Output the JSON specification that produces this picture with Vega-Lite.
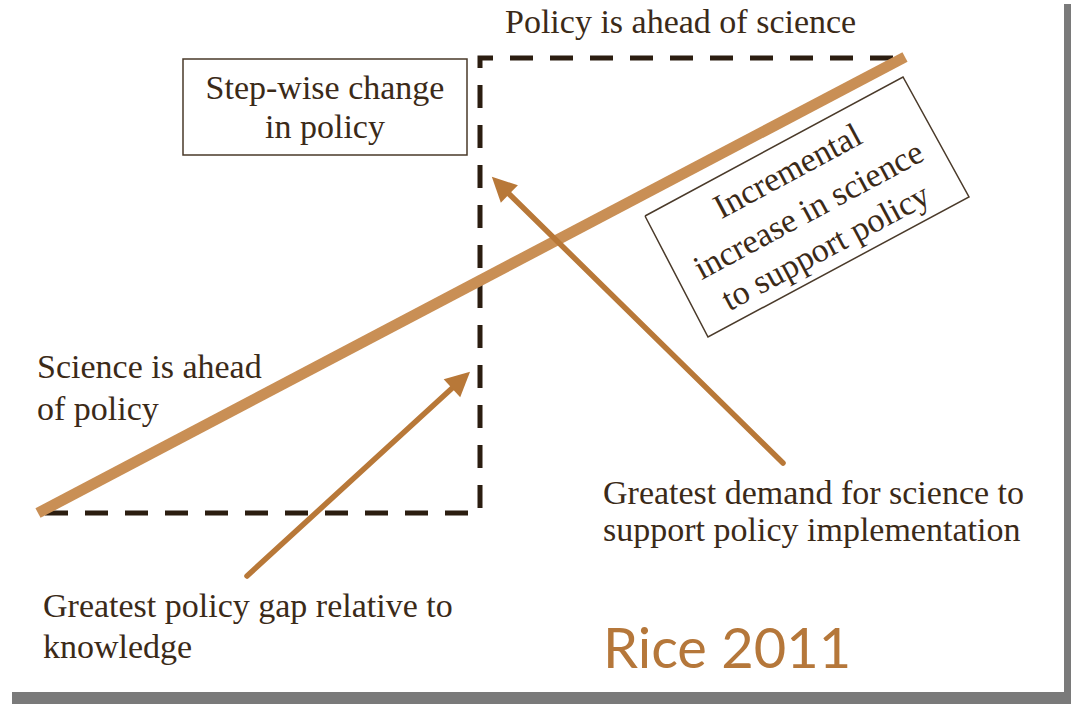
{
  "$schema": "https://vega.github.io/schema/vega-lite/v6.json",
  "width": 1071,
  "height": 704,
  "autosize": {"type": "fit", "contains": "padding"},
  "padding": 0,
  "background": "white",
  "config": {"view": {"stroke": null}},
  "encoding": {
    "x": {"field": "x", "type": "quantitative", "scale": {"domain": [0, 1071], "nice": false, "zero": false}, "axis": null},
    "y": {"field": "y", "type": "quantitative", "scale": {"domain": [0, 704], "nice": false, "zero": false, "reverse": true}, "axis": null}
  },
  "layer": [
    {
      "data": {"values": [
        {"x": 12, "x2": 1071, "y": 692, "y2": 704},
        {"x": 1064, "x2": 1071, "y": 4, "y2": 704}
      ]},
      "mark": {"type": "rect", "color": "#7a7a7a"},
      "encoding": {
        "x2": {"field": "x2"},
        "y2": {"field": "y2"}
      }
    },
    {
      "data": {"values": [
        {"x": 183, "x2": 467, "y": 59, "y2": 155}
      ]},
      "mark": {"type": "rect", "fill": null, "stroke": "#4a3a2a", "strokeWidth": 1.5},
      "encoding": {
        "x2": {"field": "x2"},
        "y2": {"field": "y2"}
      }
    },
    {
      "data": {"values": [
        {"o": 0, "x": 645, "y": 216},
        {"o": 1, "x": 903, "y": 77},
        {"o": 2, "x": 969, "y": 197},
        {"o": 3, "x": 708, "y": 337},
        {"o": 4, "x": 645, "y": 216}
      ]},
      "mark": {"type": "line", "color": "#4a3a2a", "strokeWidth": 1.5},
      "encoding": {"order": {"field": "o"}}
    },
    {
      "data": {"values": [
        {"o": 0, "x": 45, "y": 513},
        {"o": 1, "x": 480, "y": 513},
        {"o": 2, "x": 480, "y": 58},
        {"o": 3, "x": 898, "y": 58}
      ]},
      "mark": {"type": "line", "color": "#2b1d10", "strokeWidth": 5, "strokeDash": [23, 17], "strokeCap": "butt", "strokeJoin": "miter"},
      "encoding": {"order": {"field": "o"}}
    },
    {
      "data": {"values": [
        {"o": 0, "x": 38, "y": 513},
        {"o": 1, "x": 905, "y": 57}
      ]},
      "mark": {"type": "line", "color": "#C98F55", "strokeWidth": 11, "strokeCap": "butt"},
      "encoding": {"order": {"field": "o"}}
    },
    {
      "data": {"values": [
        {"id": "a", "o": 0, "x": 247, "y": 576},
        {"id": "a", "o": 1, "x": 461, "y": 380},
        {"id": "b", "o": 0, "x": 783, "y": 463},
        {"id": "b", "o": 1, "x": 501, "y": 186}
      ]},
      "mark": {"type": "line", "color": "#B87838", "strokeWidth": 5.5, "strokeCap": "round"},
      "encoding": {"order": {"field": "o"}, "detail": {"field": "id"}}
    },
    {
      "data": {"values": [
        {"x": 461, "y": 380, "a": 47.7},
        {"x": 500.6, "y": 185.4, "a": 314.2}
      ]},
      "mark": {"type": "point", "shape": "M0,-1L1,1L-1,1Z", "filled": true, "size": 600, "color": "#B87838", "opacity": 1, "strokeWidth": 0},
      "encoding": {"angle": {"field": "a", "type": "quantitative", "scale": null}}
    },
    {
      "data": {"values": [
        {"x": 505, "y": 33, "t": "Policy is ahead of science"},
        {"x": 37, "y": 378, "t": "Science is ahead"},
        {"x": 37, "y": 420, "t": "of policy"},
        {"x": 603, "y": 504, "t": "Greatest demand for science to"},
        {"x": 603, "y": 541, "t": "support policy implementation"},
        {"x": 43, "y": 617, "t": "Greatest policy gap relative to"},
        {"x": 43, "y": 658, "t": "knowledge"}
      ]},
      "mark": {"type": "text", "font": "Liberation Serif", "fontSize": 34, "align": "left", "baseline": "alphabetic", "color": "#3b2a18"},
      "encoding": {"text": {"field": "t"}}
    },
    {
      "data": {"values": [
        {"x": 325, "y": 99, "t": "Step-wise change"},
        {"x": 325, "y": 138, "t": "in policy"}
      ]},
      "mark": {"type": "text", "font": "Liberation Serif", "fontSize": 34, "align": "center", "baseline": "alphabetic", "color": "#3b2a18"},
      "encoding": {"text": {"field": "t"}}
    },
    {
      "data": {"values": [
        {"x": 788, "y": 172, "t": "Incremental"},
        {"x": 809, "y": 211, "t": "increase in science"},
        {"x": 826, "y": 248, "t": "to support policy"}
      ]},
      "mark": {"type": "text", "font": "Liberation Serif", "fontSize": 34, "align": "center", "baseline": "middle", "angle": 331.7, "color": "#3b2a18"},
      "encoding": {"text": {"field": "t"}}
    },
    {
      "data": {"values": [
        {"x": 603, "y": 668, "t": "Rice 2011"}
      ]},
      "mark": {"type": "text", "font": "Lato", "fontSize": 56, "align": "left", "baseline": "alphabetic", "color": "#B5773A"},
      "encoding": {"text": {"field": "t"}}
    }
  ]
}
